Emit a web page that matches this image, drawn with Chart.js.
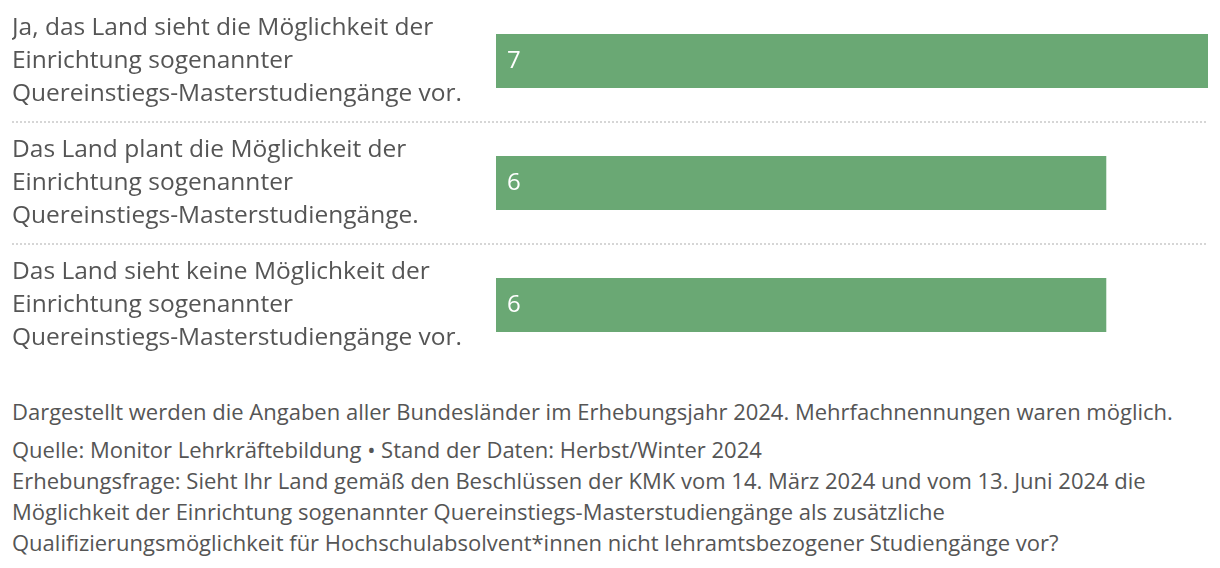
<!DOCTYPE html>
<html lang="de">
<head>
<meta charset="utf-8">
<script src="https://cdn.jsdelivr.net/npm/chart.js@4"></script>
<style>
    body { margin: 0; background: #fff; font-family: "Open Sans", Lato, sans-serif; color: #555; }
    .wrap { width: 1220px; }
    .chart-box { position: relative; width: 1220px; height: 366px; }
    .note { margin: 30px 0 0 12px; font-size: 22px; line-height: 31px; }
    .source { margin: 7px 0 0 12px; font-size: 22px; line-height: 31px; }
</style>
</head>
<body>
<div class="wrap">
    <div class="chart-box"><canvas id="bars"></canvas></div>
    <div class="note">Dargestellt werden die Angaben aller Bundesländer im Erhebungsjahr 2024. Mehrfachnennungen waren möglich.</div>
    <div class="source">Quelle: Monitor Lehrkräftebildung • Stand der Daten: Herbst/Winter 2024<br>
    Erhebungsfrage: Sieht Ihr Land gemäß den Beschlüssen der KMK vom 14. März 2024 und vom 13. Juni 2024 die<br>
    Möglichkeit der Einrichtung sogenannter Quereinstiegs-Masterstudiengänge als zusätzliche<br>
    Qualifizierungsmöglichkeit für Hochschulabsolvent*innen nicht lehramtsbezogener Studiengänge vor?</div>
</div>
<script>
    // Daten
    var categories = [
        ["Ja, das Land sieht die Möglichkeit der", "Einrichtung sogenannter", "Quereinstiegs-Masterstudiengänge vor."],
        ["Das Land plant die Möglichkeit der", "Einrichtung sogenannter", "Quereinstiegs-Masterstudiengänge."],
        ["Das Land sieht keine Möglichkeit der", "Einrichtung sogenannter", "Quereinstiegs-Masterstudiengänge vor."]
    ];
    var values = [7, 6, 6];
    var xMax = 7;

    var green = "#6aa874";
    var dotColor = "#d6d6d6";
    var fontFamily = "'Open Sans', Lato, sans-serif";

    // Zahlen in den Balken
    var valueLabels = {
        id: "valueLabels",
        afterDatasetsDraw: function (chart) {
            var ctx = chart.ctx;
            var meta = chart.getDatasetMeta(0);
            ctx.save();
            ctx.fillStyle = "#ffffff";
            ctx.font = "24px " + fontFamily;
            ctx.textAlign = "left";
            ctx.textBaseline = "middle";
            meta.data.forEach(function (bar, i) {
                ctx.fillText(String(values[i]), bar.base + 11, bar.y);
            });
            ctx.restore();
        }
    };

    // nur die Trennlinien zwischen den Kategorien zeigen
    var sepColor = function (c) {
        if (c.type !== "tick" || c.index === 0) return "rgba(0,0,0,0)";
        return dotColor;
    };

    new Chart(document.getElementById("bars"), {
        type: "bar",
        data: {
            labels: categories,
            datasets: [{
                data: values,
                backgroundColor: green,
                barPercentage: 0.443,
                categoryPercentage: 1
            }]
        },
        options: {
            indexAxis: "y",
            responsive: true,
            maintainAspectRatio: false,
            animation: false,
            layout: { padding: { left: 12, right: 12, top: 0, bottom: 0 } },
            plugins: { legend: { display: false }, tooltip: { enabled: false } },
            scales: {
                x: { min: 0, max: xMax, display: false },
                y: {
                    afterFit: function (scale) {
                        scale.width = 484;
                        scale.paddingTop = 0;
                        scale.paddingBottom = 0;
                    },
                    border: { display: false, dash: [2, 2] },
                    grid: {
                        color: sepColor,
                        lineWidth: 2,
                        tickColor: sepColor,
                        tickWidth: 2,
                        tickLength: 484,
                        tickBorderDash: [2, 2]
                    },
                    ticks: {
                        crossAlign: "far",
                        color: "#555",
                        font: { family: fontFamily, size: 24.5, lineHeight: 1.347 }
                    }
                }
            }
        },
        plugins: [valueLabels]
    });
</script>
</body>
</html>
